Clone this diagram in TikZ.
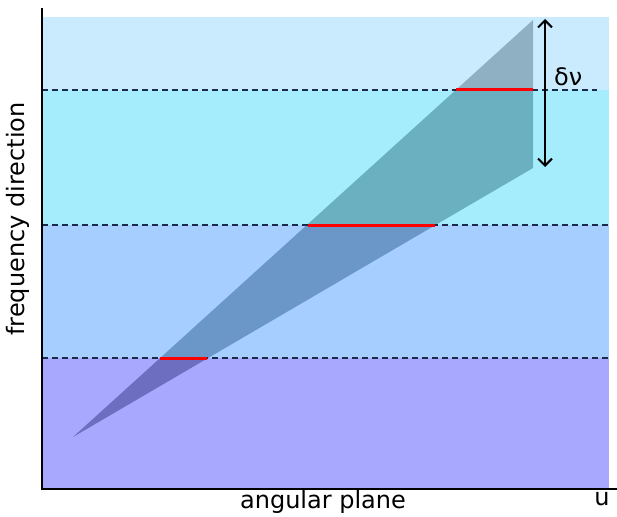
\documentclass[tikz,border=0pt]{standalone}
\usepackage{fontspec}
\setmainfont{DejaVu Sans}
\usetikzlibrary{arrows.meta}
\definecolor{bandA}{HTML}{C9EBFD}
\definecolor{bandB}{HTML}{A5EDFC}
\definecolor{bandC}{HTML}{A6CEFF}
\definecolor{bandD}{HTML}{A8A8FF}
\definecolor{wedgeA}{HTML}{8FB0C2}
\definecolor{wedgeB}{HTML}{6AB0C0}
\definecolor{wedgeC}{HTML}{6A96C8}
\definecolor{wedgeD}{HTML}{6E6EC0}
\definecolor{dashcol}{HTML}{1A2A4A}
\tikzset{
  level/.style={dashcol, line width=1.7pt, dash pattern=on 6pt off 4pt},
  redseg/.style={red, line width=3pt},
  axisline/.style={black, line width=2pt},
  lbl/.style={font=\fontsize{24}{28}\selectfont, inner sep=0pt}
}
\begin{document}
\begin{tikzpicture}[x=1pt,y=-1pt]
\useasboundingbox (0,0) rectangle (617,516);
% bands
\fill[bandA] (42,17) rectangle (609,90);
\fill[bandB] (42,90) rectangle (609,225);
\fill[bandC] (42,225) rectangle (609,358);
\fill[bandD] (42,358) rectangle (609,489);
% wedge, coloured per band
\def\wedge{(73,437) -- (533,20) -- (533,168) -- cycle}
\begin{scope}\clip (42,17) rectangle (609,90); \fill[wedgeA] \wedge; \end{scope}
\begin{scope}\clip (42,90) rectangle (609,225); \fill[wedgeB] \wedge; \end{scope}
\begin{scope}\clip (42,225) rectangle (609,358); \fill[wedgeC] \wedge; \end{scope}
\begin{scope}\clip (42,358) rectangle (609,489); \fill[wedgeD] \wedge; \end{scope}
% dashed levels
\draw[level] (42,90) -- (597,90);
\draw[level] (42,225) -- (609,225);
\draw[level] (42,358) -- (609,358);
% red segments
\draw[redseg] (456,90) -- (533,90);
\draw[redseg] (308,225) -- (435,225);
\draw[redseg] (160,358) -- (207,358);
% delta nu arrow
\coordinate (atop) at (545,19);
\coordinate (abot) at (545,167);
\draw[black, line width=2pt, {Straight Barb[length=7pt,width=14pt]}-{Straight Barb[length=7pt,width=14pt]}] (atop) -- (abot);
\node[lbl, anchor=west] (dn) at (554,77) {δν};
% axes
\draw[axisline] (42,8) -- (42,489) -- (617,489);
\node[lbl] (xl) at (323,502) {angular plane};
\node[lbl] (ul) at (602,499) {u};
\node[lbl, rotate=90] (yl) at (18,219) {frequency direction};
\end{tikzpicture}
\end{document}
